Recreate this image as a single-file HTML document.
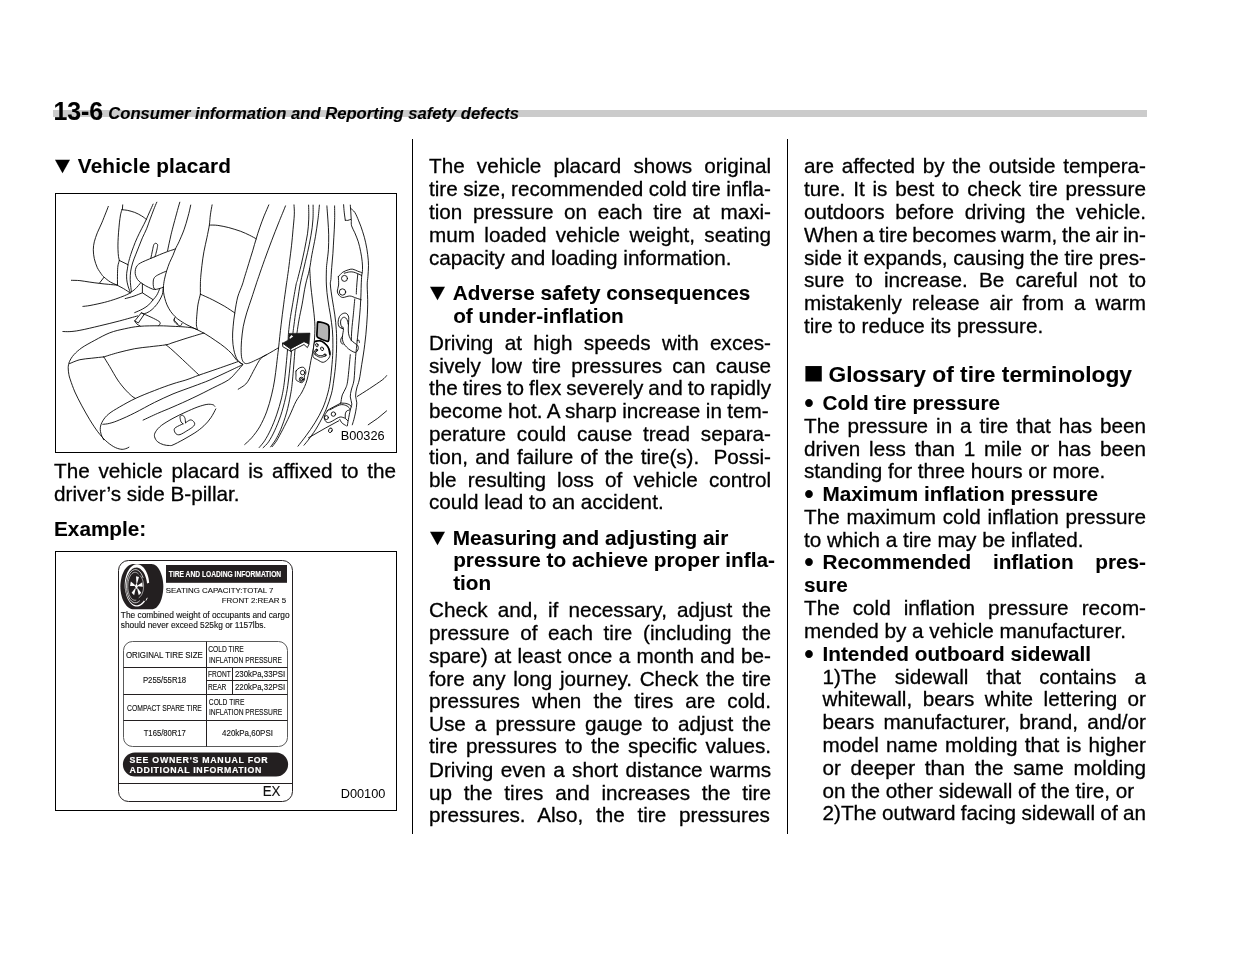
<!DOCTYPE html>
<html lang="en"><head><meta charset="utf-8"><title>13-6 Consumer information and Reporting safety defects</title>
<style>
html,body{margin:0;padding:0;background:#fff;}
body{width:1235px;height:954px;position:relative;overflow:hidden;font-family:"Liberation Sans",sans-serif;color:#000;}
#pg{position:absolute;left:0;top:0;width:1235px;height:954px;will-change:transform;}
.l{position:absolute;white-space:nowrap;font-size:20.7px;line-height:24px;height:24px;-webkit-text-stroke:0.3px #000;}
.j{text-align:justify;text-align-last:justify;white-space:normal;}
.b{font-weight:700;-webkit-text-stroke:0.1px #000;}
.bi{font-weight:700;font-style:italic;-webkit-text-stroke:0.1px #000;}
.bar{position:absolute;left:53px;top:110px;width:1094px;height:7px;background:#cbcbcb;}
.sep{position:absolute;top:139px;width:1px;height:695px;background:#000;}
.tri{position:absolute;left:0.9px;top:0;font-family:"DejaVu Sans",sans-serif;font-size:19.5px;font-weight:400;line-height:24px;transform:translateY(-0.2px) scaleY(0.9);}
.ht{display:inline-block;margin-left:23.8px;}.hi{display:inline-block;margin-left:24.2px;}
.sq{position:absolute;left:0;top:0;font-family:"DejaVu Sans",sans-serif;font-size:20.2px;font-weight:400;line-height:24px;transform:translate(-0.4px,-2.5px) scaleX(1.06);transform-origin:0 50%;}
.gt{display:inline-block;margin-left:24.6px;}
.bul{position:absolute;left:0.3px;top:0px;font-size:27px;line-height:24px;}
.bt{display:inline-block;margin-left:18.5px;}
.box{position:absolute;left:55px;width:340px;height:258px;border:1px solid #000;}
.cap{position:absolute;font-size:12.75px;line-height:14px;white-space:nowrap;}
</style></head>
<body><div id="pg">
<div class="bar"></div>
<div class="l b" style="left:53.4px;top:98.67px;font-size:24.9px;">13-6</div>
<div class="l bi" style="left:108.3px;top:102.14px;font-size:16.62px;">Consumer information and Reporting safety defects</div>
<div class="sep" style="left:412px"></div><div class="sep" style="left:787px"></div>
<div class="l b" style="left:54px;top:154.05px;font-size:20.75px;letter-spacing:0.15px;"><span class="tri">&#9660;</span><span class="ht">Vehicle placard</span></div>
<div class="l" style="left:54px;top:458.97px;width:342px;word-spacing:3.015px;">The vehicle placard is affixed to the</div>
<div class="l" style="left:54px;top:481.57px;">driver&rsquo;s side B-pillar.</div>
<div class="l b" style="left:54px;top:517.05px;font-size:20.75px;">Example:</div>
<div class="l" style="left:429px;top:154.07px;width:342px;word-spacing:6.445px;">The vehicle placard shows original</div>
<div class="l" style="left:429px;top:176.97px;width:342px;word-spacing:-0.356px;">tire size, recommended cold tire infla-</div>
<div class="l" style="left:429px;top:199.97px;width:342px;word-spacing:4.874px;">tion pressure on each tire at maxi-</div>
<div class="l" style="left:429px;top:222.97px;width:342px;word-spacing:3.566px;">mum loaded vehicle weight, seating</div>
<div class="l" style="left:429px;top:245.97px;width:342px;">capacity and loading information.</div>
<div class="l b" style="left:429px;top:281.05px;width:342px;font-size:20.75px;"><span class="tri">&#9660;</span><span class="ht">Adverse safety consequences</span></div>
<div class="l b" style="left:429px;top:303.65px;width:342px;font-size:20.75px;"><span class="hi">of under-inflation</span></div>
<div class="l" style="left:429px;top:330.67px;width:342px;word-spacing:5.618px;">Driving at high speeds with exces-</div>
<div class="l" style="left:429px;top:353.67px;width:342px;word-spacing:4.473px;">sively low tire pressures can cause</div>
<div class="l" style="left:429px;top:376.07px;width:342px;word-spacing:-0.752px;">the tires to flex severely and to rapidly</div>
<div class="l" style="left:429px;top:398.97px;width:342px;word-spacing:-0.301px;">become hot. A sharp increase in tem-</div>
<div class="l" style="left:429px;top:421.77px;width:342px;word-spacing:5.000px;">perature could cause tread separa-</div>
<div class="l" style="left:429px;top:444.67px;width:342px;word-spacing:1.387px;">tion, and failure of the tire(s).&nbsp; Possi-</div>
<div class="l" style="left:429px;top:467.67px;width:342px;word-spacing:5.386px;">ble resulting loss of vehicle control</div>
<div class="l" style="left:429px;top:490.27px;width:342px;">could lead to an accident.</div>
<div class="l b" style="left:429px;top:525.65px;width:342px;font-size:20.75px;"><span class="tri">&#9660;</span><span class="ht">Measuring and adjusting air</span></div>
<div class="l b" style="left:429px;top:548.15px;width:342px;font-size:20.75px;"><span class="hi">pressure to achieve proper infla-</span></div>
<div class="l b" style="left:429px;top:570.95px;width:342px;font-size:20.75px;"><span class="hi">tion</span></div>
<div class="l" style="left:429px;top:597.77px;width:342px;word-spacing:4.311px;">Check and, if necessary, adjust the</div>
<div class="l" style="left:429px;top:620.67px;width:342px;word-spacing:4.923px;">pressure of each tire (including the</div>
<div class="l" style="left:429px;top:643.57px;width:342px;word-spacing:0.557px;">spare) at least once a month and be-</div>
<div class="l" style="left:429px;top:666.57px;width:342px;word-spacing:1.867px;">fore any long journey. Check the tire</div>
<div class="l" style="left:429px;top:688.97px;width:342px;word-spacing:6.307px;">pressures when the tires are cold.</div>
<div class="l" style="left:429px;top:711.77px;width:342px;word-spacing:3.332px;">Use a pressure gauge to adjust the</div>
<div class="l" style="left:429px;top:734.37px;width:342px;word-spacing:2.630px;">tire pressures to the specific values.</div>
<div class="l" style="left:429px;top:757.67px;width:342px;word-spacing:1.713px;">Driving even a short distance warms</div>
<div class="l" style="left:429px;top:780.57px;width:342px;word-spacing:6.019px;">up the tires and increases the tire</div>
<div class="l" style="left:429px;top:803.37px;width:342px;word-spacing:7.028px;">pressures. Also, the tire pressures</div>
<div class="l" style="left:804px;top:154.07px;width:342px;word-spacing:2.006px;">are affected by the outside tempera-</div>
<div class="l" style="left:804px;top:176.97px;width:342px;word-spacing:2.045px;">ture. It is best to check tire pressure</div>
<div class="l" style="left:804px;top:199.67px;width:342px;word-spacing:5.000px;">outdoors before driving the vehicle.</div>
<div class="l" style="left:804px;top:222.67px;width:342px;word-spacing:-1.074px;">When a tire becomes warm, the air in-</div>
<div class="l" style="left:804px;top:245.57px;width:342px;word-spacing:-0.113px;">side it expands, causing the tire pres-</div>
<div class="l" style="left:804px;top:268.37px;width:342px;word-spacing:5.445px;">sure to increase. Be careful not to</div>
<div class="l" style="left:804px;top:291.27px;width:342px;word-spacing:4.251px;">mistakenly release air from a warm</div>
<div class="l" style="left:804px;top:314.07px;width:342px;">tire to reduce its pressure.</div>
<div class="l b" style="left:804px;top:361.72px;font-size:22.75px;"><span class="sq">&#9632;</span><span class="gt">Glossary of tire terminology</span></div>
<div class="l b" style="left:804px;top:390.85px;width:342px;font-size:20.75px;"><span class="bul">&bull;</span><span class="bt">Cold tire pressure</span></div>
<div class="l" style="left:804px;top:413.77px;width:342px;word-spacing:2.201px;">The pressure in a tire that has been</div>
<div class="l" style="left:804px;top:436.57px;width:342px;word-spacing:3.023px;">driven less than 1 mile or has been</div>
<div class="l" style="left:804px;top:459.17px;width:342px;">standing for three hours or more.</div>
<div class="l b" style="left:804px;top:481.75px;width:342px;font-size:20.75px;"><span class="bul">&bull;</span><span class="bt">Maximum inflation pressure</span></div>
<div class="l" style="left:804px;top:504.77px;width:342px;word-spacing:0.992px;">The maximum cold inflation pressure</div>
<div class="l" style="left:804px;top:527.67px;width:342px;">to which a tire may be inflated.</div>
<div class="l b" style="left:804px;top:550.05px;width:342px;font-size:20.75px;word-spacing:15.902px;"><span class="bul">&bull;</span><span class="bt">Recommended inflation pres-</span></div>
<div class="l b" style="left:804px;top:572.75px;width:342px;font-size:20.75px;">sure</div>
<div class="l" style="left:804px;top:595.77px;width:342px;word-spacing:7.313px;">The cold inflation pressure recom-</div>
<div class="l" style="left:804px;top:618.67px;width:342px;">mended by a vehicle manufacturer.</div>
<div class="l b" style="left:804px;top:641.65px;width:342px;font-size:20.75px;"><span class="bul">&bull;</span><span class="bt">Intended outboard sidewall</span></div>
<div class="l" style="left:822.5px;top:664.77px;width:323.5px;word-spacing:12.454px;">1)The sidewall that contains a</div>
<div class="l" style="left:822.5px;top:687.17px;width:323.5px;word-spacing:4.698px;">whitewall, bears white lettering or</div>
<div class="l" style="left:822.5px;top:709.97px;width:323.5px;word-spacing:3.568px;">bears manufacturer, brand, and/or</div>
<div class="l" style="left:822.5px;top:732.77px;width:323.5px;word-spacing:1.454px;">model name molding that is higher</div>
<div class="l" style="left:822.5px;top:755.57px;width:323.5px;word-spacing:3.979px;">or deeper than the same molding</div>
<div class="l" style="left:822.5px;top:778.57px;width:323.5px;">on the other sidewall of the tire, or</div>
<div class="l" style="left:822.5px;top:800.77px;width:323.5px;word-spacing:-0.387px;">2)The outward facing sidewall of an</div>
<div class="box" style="top:193px"><svg class="fig" viewBox="56 194 340 258" width="340" height="258" style="position:absolute;left:0;top:0">
<g fill="none" stroke="#000" stroke-width="0.88" stroke-linecap="round" stroke-linejoin="round">
<path d="M108.3 206.4C107.9 207.5 106.9 210.2 105.8 212.9C104.7 215.6 103.2 219.5 101.8 222.9C100.4 226.2 98.6 229.7 97.3 232.8C96.1 236.0 95.0 239.0 94.3 241.8C93.7 244.6 93.3 246.9 93.3 249.8C93.3 252.6 93.7 255.7 94.3 258.7C95.0 261.7 96.1 265.0 97.3 267.7C98.6 270.3 100.7 273.1 101.8 274.7C102.9 276.2 102.5 275.8 103.9 277.0C105.4 278.3 108.3 280.8 110.5 282.1C112.7 283.5 114.9 284.0 117.1 285.1C119.3 286.2 121.6 287.5 123.7 288.7C125.9 290.0 128.9 292.1 130.0 292.8"/>
<path d="M122.7 204.9 L122.4 209.4"/>
<path d="M121.9 209.7C122.9 209.8 125.6 210.0 127.7 210.4C129.8 210.9 132.3 211.5 134.7 212.4C137.0 213.3 139.7 214.7 141.6 215.9C143.6 217.1 145.6 218.8 146.4 219.4"/>
<path d="M121.9 209.7C121.7 210.6 120.9 212.7 120.5 214.9C120.1 217.1 119.8 219.9 119.4 222.9C119.1 225.9 118.8 229.7 118.5 232.8C118.3 236.0 118.1 239.0 118.0 241.8C117.9 244.6 117.9 247.3 118.0 249.8C118.1 252.3 118.3 254.9 118.5 256.7C118.8 258.5 119.3 259.9 119.4 260.5"/>
<path d="M119.3 260.5C119.1 261.4 118.2 263.9 117.9 266.0C117.6 268.1 117.6 270.2 117.5 273.3C117.4 276.5 117.5 283.1 117.5 285.1"/>
<path d="M119.4 260.5 L128.0 264.7"/>
<path d="M153.1 204.1C152.5 205.4 150.8 209.3 149.6 211.9C148.4 214.5 147.4 217.1 146.1 219.9C144.8 222.7 143.1 225.9 141.6 228.8C140.1 231.8 138.5 234.8 137.2 237.8C135.8 240.8 134.5 244.0 133.5 246.8C132.4 249.6 131.5 252.3 130.7 254.7C129.9 257.2 129.1 260.1 128.7 261.7C128.2 263.4 128.2 263.5 128.0 264.7C127.8 265.9 127.6 267.5 127.4 268.9C127.2 270.4 126.8 271.6 126.7 273.3C126.6 275.0 126.5 277.2 126.7 279.2C126.9 281.2 127.2 283.0 127.8 285.1C128.3 287.2 129.6 290.6 130.0 291.7"/>
<path d="M156.8 202.2C156.2 203.4 154.7 207.1 153.6 209.9C152.5 212.7 151.4 215.7 150.2 218.9C149.0 222.0 147.9 225.7 146.6 228.8C145.3 232.0 143.7 234.8 142.4 237.8C141.1 240.8 140.0 243.9 138.8 246.8C137.7 249.6 136.6 252.2 135.6 254.9C134.5 257.6 133.4 260.3 132.6 263.0C131.8 265.7 131.1 268.4 130.7 271.1C130.3 273.8 130.2 276.8 130.2 279.2C130.2 281.7 130.5 283.7 130.7 285.8C130.9 287.9 131.3 290.7 131.4 291.7"/>
<path d="M71.4 280.3C72.8 280.4 76.8 280.3 79.9 280.6C83.0 280.9 86.5 281.7 89.8 282.1C93.2 282.6 96.7 283.1 99.8 283.4C102.9 283.8 105.4 284.1 108.3 284.3C111.2 284.6 115.7 285.0 117.1 285.1"/>
<path d="M103.9 277.4 L99.5 283.1"/>
<path d="M130.3 292.8C131.2 292.1 133.8 290.4 135.5 288.7C137.2 287.1 139.8 283.9 140.6 282.9"/>
<path d="M130.3 293.0C129.4 293.4 126.9 294.7 124.5 295.7C122.0 296.7 119.0 297.9 115.7 299.0C112.4 300.1 108.9 301.2 104.7 302.3C100.4 303.4 93.6 304.8 90.0 305.5C86.4 306.1 84.1 306.3 82.9 306.4"/>
<path d="M175.5 248.8C175.1 248.9 174.3 249.3 173.0 249.8C171.7 250.2 169.8 250.7 167.5 251.6C165.3 252.4 162.5 253.5 159.6 254.7C156.6 256.0 152.4 257.7 149.6 258.9C146.8 260.1 144.5 261.0 142.6 261.9C140.8 262.8 139.7 263.3 138.6 264.2C137.6 265.1 136.7 265.9 136.2 267.2C135.6 268.4 135.2 270.3 135.2 271.7C135.1 273.1 135.2 274.3 135.7 275.7C136.1 277.0 136.8 278.5 137.6 279.6C138.5 280.8 139.3 281.5 140.6 282.5C142.0 283.5 144.0 284.8 145.7 285.8C147.5 286.8 149.4 287.8 150.9 288.4C152.3 289.0 153.2 289.4 154.5 289.5C155.9 289.5 157.5 289.1 159.0 288.7C160.4 288.4 162.6 287.4 163.4 287.1"/>
<path d="M166.3 271.1C165.3 271.6 162.3 272.8 160.4 273.7C158.6 274.6 156.4 275.6 155.3 276.6C154.1 277.7 153.8 278.7 153.4 279.9C153.1 281.2 153.2 283.0 153.2 284.3C153.3 285.7 153.5 287.2 153.8 288.0C154.2 288.8 155.0 289.1 155.3 289.3"/>
<path d="M150.8 258.5C151.1 257.1 152.1 252.1 152.6 249.8C153.1 247.5 153.3 245.9 153.8 244.8C154.3 243.7 154.9 243.3 155.6 243.3C156.2 243.3 157.3 243.7 157.6 244.6C157.8 245.5 157.4 247.1 157.1 248.8C156.7 250.5 156.0 253.4 155.6 254.7C155.2 256.1 154.7 256.6 154.6 256.9"/>
<path d="M179.8 202.2C179.2 204.1 177.6 209.8 176.5 213.9C175.4 218.0 173.9 223.4 173.0 226.9C172.1 230.3 171.7 232.0 171.0 234.8C170.4 237.6 169.6 241.1 169.0 243.8C168.4 246.5 167.8 249.8 167.5 251.0"/>
<path d="M190.7 205.1C190.3 207.1 189.1 212.8 187.9 216.9C186.8 221.0 185.5 225.7 184.0 229.8C182.5 234.0 180.4 238.6 179.0 241.8C177.6 244.9 176.5 246.5 175.5 248.8C174.5 251.0 174.0 252.9 173.0 255.2C172.0 257.6 170.6 260.1 169.5 262.7C168.5 265.3 167.6 267.9 166.7 270.7C165.9 273.4 165.0 276.4 164.5 279.2C163.9 282.0 163.5 285.1 163.4 287.3C163.2 289.5 163.3 290.6 163.6 292.4C163.8 294.2 164.2 296.2 164.8 298.3C165.4 300.4 166.0 302.7 167.0 304.9C168.0 307.1 169.3 309.5 170.7 311.5C172.0 313.4 173.7 315.2 175.1 316.6C176.5 318.0 177.0 318.5 179.0 319.9C181.0 321.2 183.9 323.2 186.9 324.8C190.0 326.5 194.2 328.2 197.4 329.8C200.6 331.4 202.8 332.5 205.9 334.3C208.9 336.1 212.7 338.6 215.8 340.8C219.0 342.9 222.1 345.1 224.8 347.3C227.4 349.4 229.8 351.6 231.8 353.7C233.8 355.9 234.9 358.5 236.7 360.2C238.6 361.9 241.7 363.5 242.7 364.2"/>
<path d="M142.4 284.0 L142.4 292.8 L153.1 299.7"/>
<path d="M142.4 292.8C141.0 293.3 136.9 295.1 134.0 296.1C131.1 297.1 126.7 298.2 125.2 298.6"/>
<path d="M159.7 288.7C159.2 289.8 157.9 293.5 156.7 295.3C155.6 297.2 154.4 298.2 153.1 299.7C151.7 301.3 150.4 303.4 148.7 304.9C147.0 306.4 145.1 307.6 142.8 308.9C140.5 310.2 136.1 312.0 134.7 312.6"/>
<path d="M163.4 287.6C163.2 288.8 163.0 292.3 162.3 294.6C161.5 296.9 160.2 299.1 159.0 301.2C157.7 303.3 156.1 305.4 154.5 307.1C153.0 308.8 151.1 310.4 149.4 311.5C147.7 312.6 145.6 313.4 144.3 313.7C142.9 313.9 141.8 313.1 141.3 312.9"/>
<path d="M141.3 312.9 L134.7 321.0 L138.4 322.9 L143.9 314.8Z"/>
<path d="M134.7 320.9C135.0 321.4 135.7 323.0 136.7 323.8C137.6 324.7 139.6 325.7 140.1 326.0"/>
<path d="M143.6 313.9C145.3 314.6 150.8 317.0 153.6 318.4C156.3 319.8 159.2 321.1 160.1 322.4C160.9 323.6 158.8 325.3 158.6 325.8"/>
<path d="M137.6 315.9C134.7 316.7 126.0 319.2 119.7 320.9C113.4 322.5 106.4 324.3 99.8 325.8C93.2 327.4 84.9 329.4 79.9 330.3C74.9 331.3 72.7 331.4 69.9 331.6C67.1 331.8 64.1 331.5 62.9 331.5"/>
<path d="M197.4 329.6C196.5 329.3 194.3 328.3 191.9 327.8C189.5 327.4 186.1 327.1 183.0 326.8C179.8 326.6 176.9 326.5 173.0 326.3C169.1 326.2 165.1 325.8 159.6 325.8C154.0 325.8 145.5 325.8 139.6 326.3C133.8 326.8 129.7 327.7 124.7 328.8C119.7 329.9 114.7 330.9 109.8 332.8C104.8 334.7 99.5 337.8 94.8 340.3C90.2 342.8 85.4 345.3 81.9 347.7C78.4 350.2 76.0 352.4 73.9 354.7C71.8 357.0 70.4 359.5 69.4 361.7C68.5 363.9 68.3 365.5 68.2 367.7C68.1 369.8 68.6 372.6 68.9 374.6C69.3 376.7 69.4 377.1 70.4 380.0C71.4 382.9 73.0 387.6 74.9 392.0C76.8 396.3 79.4 401.2 81.9 405.9C84.4 410.5 87.2 415.5 89.8 419.8C92.5 424.2 95.2 428.3 97.8 431.8C100.5 435.3 103.1 438.3 105.8 440.8C108.4 443.2 111.3 445.3 113.7 446.7C116.2 448.1 118.7 448.9 120.7 449.2C122.7 449.6 124.3 449.1 125.7 448.7C127.1 448.4 128.4 447.5 128.9 447.2"/>
<path d="M69.4 363.7C71.2 363.0 76.1 360.6 79.9 359.7C83.6 358.8 87.8 358.7 91.8 358.2C95.8 357.7 101.8 357.1 103.8 356.9"/>
<path d="M103.8 356.9C106.1 356.2 112.6 354.1 117.7 352.7C122.9 351.4 129.3 349.7 134.7 348.7C140.0 347.7 144.4 347.4 149.6 346.8C154.8 346.1 162.1 345.5 166.0 344.8C169.9 344.1 169.4 343.7 173.0 342.6C176.7 341.4 182.8 339.4 187.9 337.8C193.1 336.2 201.2 333.8 203.9 333.0"/>
<path d="M103.8 356.9C104.8 358.5 107.4 362.8 109.8 366.7C112.1 370.5 115.2 376.3 117.7 380.0C120.2 383.7 122.4 386.3 124.7 389.0C127.0 391.6 129.9 394.4 131.7 395.9C133.5 397.5 134.8 398.0 135.5 398.4"/>
<path d="M166.0 344.8C167.2 345.8 169.7 347.7 173.0 350.7C176.3 353.7 181.6 358.6 185.9 362.7C190.3 366.8 196.9 373.1 199.1 375.1"/>
<path d="M103.8 439.8C103.4 438.9 101.9 436.8 101.3 434.8C100.7 432.8 100.0 430.1 100.3 427.8C100.5 425.5 101.4 423.2 102.8 420.8C104.2 418.5 105.9 416.2 108.8 413.9C111.6 411.5 115.3 409.5 119.7 406.9C124.2 404.3 129.6 401.2 135.5 398.4C141.3 395.7 148.3 392.9 154.6 390.5C160.8 388.0 167.8 385.5 173.0 383.8C178.2 382.0 181.6 381.4 185.9 380.0C190.3 378.6 193.8 377.0 199.1 375.1C204.4 373.3 211.4 370.9 217.8 368.7C224.3 366.4 234.4 362.9 237.7 361.7"/>
<path d="M102.8 424.3C104.0 424.2 106.9 424.1 109.8 423.3C112.6 422.6 115.6 421.6 119.7 419.8C123.9 418.1 128.9 415.8 134.7 412.9C140.5 410.0 148.2 405.6 154.6 402.4C161.0 399.3 166.6 396.6 173.0 393.9C179.4 391.3 186.8 388.8 192.9 386.5C199.1 384.2 204.0 382.5 209.9 380.0C215.7 377.5 222.3 374.2 227.8 371.7C233.3 369.1 240.2 365.8 242.7 364.7"/>
<path d="M143.1 420.1C145.5 419.0 152.6 415.6 157.6 413.4C162.5 411.2 167.1 409.5 173.0 406.9C178.9 404.3 186.3 401.1 192.9 397.9C199.6 394.8 206.9 391.0 212.8 388.0C218.7 385.0 224.3 382.7 228.3 380.0C232.3 377.3 234.3 374.2 236.7 371.7C239.2 369.1 241.7 365.8 242.7 364.7"/>
<path d="M238.2 389.2C239.3 388.5 243.0 386.5 244.7 385.0C246.5 383.5 247.0 382.7 248.7 380.0C250.4 377.3 252.7 372.2 254.7 368.7C256.7 365.1 258.7 361.0 260.6 358.7C262.6 356.4 265.6 355.4 266.6 354.7"/>
<path d="M214.8 406.4C214.5 406.1 214.2 405.0 212.8 404.7C211.5 404.4 209.4 404.0 206.9 404.4C204.4 404.8 201.6 405.6 197.9 406.9C194.2 408.2 189.1 410.5 185.0 412.4C180.8 414.3 176.9 416.2 173.0 418.3C169.1 420.5 164.5 423.1 161.6 425.3C158.6 427.6 156.7 429.9 155.6 431.8C154.4 433.7 154.2 435.1 154.6 436.8C154.9 438.4 156.1 440.4 157.6 441.8C159.1 443.1 161.6 444.1 163.5 444.7C165.5 445.4 167.9 445.5 169.5 445.5C171.1 445.6 170.8 445.9 173.0 444.9C175.2 444.0 179.3 441.8 183.0 439.8C186.6 437.7 191.4 435.1 194.9 432.8C198.4 430.5 201.2 428.3 203.9 425.8C206.5 423.3 208.9 420.7 210.8 417.8C212.8 415.0 215.0 410.4 215.8 408.9"/>
<path d="M183.0 423.8C182.6 423.5 181.5 422.9 181.0 421.8C180.5 420.8 180.1 418.3 180.0 417.4C179.9 416.4 180.0 416.2 180.5 415.9C181.0 415.5 182.2 414.9 183.0 415.4C183.7 415.8 184.5 417.1 185.0 418.3C185.4 419.6 185.4 422.1 185.5 422.8"/>
<path d="M183.0 423.8C181.8 424.4 177.4 426.3 176.0 427.3C174.5 428.3 174.2 428.7 174.2 429.8C174.2 430.9 175.0 433.0 176.0 433.8C177.0 434.6 178.1 435.1 180.0 434.6C181.8 434.1 184.8 432.1 186.9 430.8C189.1 429.5 191.6 428.0 192.9 426.8C194.2 425.7 194.7 424.8 194.7 423.8C194.7 422.8 193.7 421.5 192.9 420.8C192.1 420.2 191.2 419.7 189.9 420.0C188.7 420.4 186.2 422.4 185.5 422.8"/>
<path d="M212.1 204.9C211.8 206.6 210.8 211.6 210.4 214.9C209.9 218.2 209.9 221.0 209.4 224.9C208.8 228.7 207.8 233.3 206.9 237.8C206.0 242.3 204.7 247.1 203.9 251.8C203.0 256.4 202.4 261.4 201.9 265.7C201.4 270.0 200.9 274.4 200.7 277.6C200.4 280.9 200.4 282.3 200.4 285.0C200.3 287.7 200.4 292.5 200.4 294.0"/>
<path d="M200.4 294.2C200.0 296.0 198.5 301.1 197.9 304.9C197.3 308.7 197.0 313.6 196.7 316.9C196.5 320.2 196.3 322.8 196.4 324.8C196.5 326.9 197.2 328.6 197.4 329.3"/>
<path d="M209.4 225.1C210.8 225.1 214.6 224.9 217.8 225.4C221.1 225.8 225.0 226.7 228.8 227.6C232.6 228.6 237.2 230.1 240.7 231.3C244.2 232.6 247.1 234.1 249.7 235.3C252.3 236.6 255.1 238.2 256.2 238.8"/>
<path d="M268.8 204.9C268.0 206.8 265.7 212.1 264.1 215.9C262.6 219.7 261.0 224.0 259.7 227.8C258.3 231.7 257.3 235.0 256.2 238.8C255.0 242.6 253.9 246.6 252.7 250.8C251.4 254.9 250.0 259.4 248.7 263.7C247.4 268.0 245.8 273.1 244.7 276.7C243.6 280.2 243.4 281.6 242.2 285.0C241.1 288.4 239.0 292.3 237.7 297.0C236.5 301.6 235.5 307.9 234.8 312.9C234.0 317.9 233.4 322.5 233.1 326.8C232.7 331.1 232.4 335.0 232.6 338.8C232.7 342.6 233.1 346.4 233.8 349.7C234.5 353.1 235.6 356.5 236.7 358.7C237.9 360.9 239.7 362.3 240.7 363.2C241.7 364.1 242.4 364.0 242.7 364.2"/>
<path d="M200.4 294.2C202.5 295.1 208.8 297.9 212.8 299.9C216.9 302.0 221.1 304.3 224.8 306.4C228.4 308.6 233.1 311.8 234.8 312.9"/>
<path d="M285.5 205.9C284.4 208.8 280.9 217.1 278.6 222.9C276.3 228.7 273.9 234.7 271.6 240.8C269.3 246.9 266.8 253.7 264.6 259.7C262.5 265.7 260.1 272.4 258.7 276.7C257.2 280.9 257.0 281.5 255.9 285.0C254.7 288.6 253.2 293.3 251.7 297.9C250.2 302.6 248.1 308.1 246.7 312.9C245.3 317.7 244.1 322.2 243.2 326.8C242.4 331.5 241.9 336.5 241.5 340.8C241.2 345.1 241.1 349.6 241.2 352.7C241.3 355.9 241.6 358.0 242.2 359.7C242.8 361.4 243.6 362.6 244.7 363.2C245.8 363.8 246.9 363.7 248.7 363.2C250.5 362.7 252.7 361.6 255.7 360.2C258.7 358.8 262.8 356.8 266.6 354.7C270.4 352.6 276.6 348.9 278.6 347.7"/>
<path d="M294.0 204.9C294.1 206.6 294.5 210.8 294.3 214.9C294.1 219.1 293.5 224.7 293.0 229.8C292.6 235.0 292.1 240.5 291.5 245.8C290.9 251.1 290.2 256.6 289.5 261.7C288.9 266.9 288.1 272.8 287.5 276.7C287.0 280.5 287.0 280.3 286.3 285.0C285.7 289.7 284.4 298.3 283.6 304.9C282.7 311.6 281.9 317.7 281.1 324.8C280.2 332.0 279.3 341.1 278.6 347.7C277.8 354.4 277.2 359.3 276.6 364.7C275.9 370.1 275.4 375.0 274.6 380.0C273.8 385.1 272.9 389.6 271.6 394.9C270.3 400.2 268.6 406.6 266.6 411.9C264.6 417.2 262.1 422.5 259.7 426.8C257.2 431.1 254.2 434.8 251.7 437.8C249.2 440.7 245.9 443.4 244.7 444.5"/>
<path d="M308.6 205.1C308.7 207.6 308.9 215.1 308.7 219.9C308.5 224.7 308.2 228.8 307.5 233.8C306.7 238.8 305.5 244.4 304.5 249.8C303.4 255.1 302.1 260.7 301.0 265.7C299.8 270.7 298.3 276.4 297.5 279.6C296.7 282.9 296.8 280.8 296.0 285.0C295.2 289.2 293.5 299.1 292.5 304.9C291.5 310.7 290.7 315.2 290.0 319.9C289.4 324.5 289.0 327.8 288.5 332.8C288.1 337.8 288.2 341.9 287.5 349.7C286.9 357.6 285.5 372.0 284.6 380.0C283.6 388.1 282.9 392.1 281.6 397.9C280.2 403.7 278.4 409.5 276.6 414.9C274.8 420.2 272.6 425.5 270.6 429.8C268.6 434.1 266.5 437.8 264.6 440.8C262.7 443.7 260.1 446.4 259.2 447.5"/>
<path d="M313.1 205.1C313.1 207.6 313.3 214.8 312.9 219.9C312.6 225.0 311.9 230.3 310.9 235.8C310.0 241.3 308.7 247.1 307.5 252.7C306.2 258.4 304.7 264.3 303.5 269.7C302.2 275.1 300.9 280.3 300.0 285.0C299.1 289.7 298.7 293.8 298.0 297.9C297.3 302.1 296.7 305.4 296.0 309.9C295.3 314.4 294.5 321.0 294.0 324.8C293.5 328.7 293.4 328.5 293.0 332.8C292.6 337.1 292.3 342.9 291.5 350.7C290.8 358.6 289.5 372.2 288.5 380.0C287.5 387.9 286.9 392.0 285.5 397.9C284.2 403.9 282.4 410.4 280.6 415.9C278.7 421.3 276.6 426.5 274.6 430.8C272.6 435.1 270.5 438.9 268.6 441.8C266.7 444.6 264.1 446.7 263.1 447.7"/>
<path d="M319.4 205.1C319.2 207.6 318.6 214.6 317.9 219.9C317.2 225.2 316.4 231.0 315.4 236.8C314.4 242.6 312.9 249.3 311.9 254.7C310.9 260.2 310.5 264.6 309.4 269.7C308.4 274.7 306.7 279.1 305.5 285.0C304.2 290.9 303.1 299.1 302.0 304.9C300.9 310.7 299.8 315.2 299.0 319.9C298.2 324.5 297.7 327.8 297.0 332.8C296.3 337.8 295.8 341.9 295.0 349.7C294.3 357.6 293.3 372.5 292.5 380.0C291.8 387.6 291.5 389.5 290.5 394.9C289.5 400.4 288.2 407.1 286.5 412.9C284.9 418.7 282.4 425.3 280.6 429.8C278.7 434.3 277.2 436.9 275.6 439.8C273.9 442.6 271.4 445.7 270.6 446.9"/>
<path d="M309.7 268.7C309.9 271.4 310.3 279.8 310.7 285.0C311.2 290.2 311.8 294.5 312.4 299.9C313.0 305.4 314.0 312.9 314.4 317.9C314.8 322.8 315.0 325.3 314.9 329.8C314.8 334.3 314.6 339.6 313.9 344.8C313.3 349.9 312.1 354.8 310.9 360.7C309.8 366.6 308.5 374.8 307.0 380.0C305.5 385.2 303.8 388.4 302.0 392.0C300.2 395.5 298.1 397.4 296.0 401.4C293.9 405.4 291.8 411.1 289.5 415.9C287.3 420.6 284.7 425.7 282.6 429.8C280.4 434.0 278.3 437.9 276.6 440.8C274.8 443.6 272.9 445.7 272.1 446.7"/>
<path d="M326.9 205.9C327.0 208.3 327.6 215.1 327.9 219.9C328.2 224.7 328.6 229.8 328.7 234.8C328.8 239.8 328.6 245.3 328.4 249.8C328.1 254.2 327.4 258.4 327.1 261.7C326.7 265.0 326.5 265.8 326.4 269.7C326.3 273.6 326.1 280.0 326.4 285.0C326.6 290.1 327.2 295.0 327.9 299.9C328.5 304.9 329.6 309.9 330.4 314.9C331.1 319.9 331.9 324.8 332.4 329.8C332.8 334.8 332.9 339.8 332.9 344.8C332.9 349.7 332.8 353.8 332.4 359.7C331.9 365.6 331.1 374.5 330.4 380.0C329.6 385.6 329.1 388.3 327.9 392.9C326.6 397.6 325.1 402.9 322.9 407.9C320.7 412.9 317.7 418.2 314.9 422.8C312.1 427.5 308.8 431.9 306.0 435.8C303.1 439.7 299.3 444.5 298.0 446.2"/>
<path d="M334.6 205.9C334.6 208.6 334.8 216.6 334.6 221.9C334.5 227.2 334.1 232.5 333.8 237.8C333.5 243.1 333.2 248.8 332.9 253.7C332.5 258.7 332.0 263.4 331.7 267.7C331.3 272.0 331.1 276.8 330.9 279.6C330.6 282.5 330.1 281.6 330.4 285.0C330.6 288.4 331.6 295.0 332.4 299.9C333.1 304.9 334.2 309.9 334.8 314.9C335.5 319.9 336.0 324.8 336.3 329.8C336.6 334.8 336.7 339.3 336.6 344.8C336.6 350.2 336.3 356.8 335.8 362.7C335.4 368.6 334.6 374.8 333.8 380.0C333.1 385.2 332.7 389.0 331.4 393.9C330.0 398.9 328.1 404.6 325.9 409.9C323.6 415.2 320.6 421.2 317.9 425.8C315.3 430.5 312.3 434.5 309.9 437.8C307.6 441.0 305.0 444.0 304.0 445.2"/>
<path d="M343.6 204.7C343.7 206.1 344.0 210.3 344.3 212.9C344.6 215.5 345.1 219.0 345.3 220.2"/>
<path d="M345.3 220.2C345.7 220.2 346.9 220.5 347.8 220.4C348.7 220.2 350.1 219.5 350.6 219.4"/>
<path d="M350.3 205.1C350.4 206.3 350.6 209.5 350.8 211.9C350.9 214.4 351.1 217.6 351.3 219.9C351.4 222.2 351.0 223.7 351.6 225.9C352.2 228.0 353.7 230.2 354.8 232.8C355.9 235.5 357.3 238.6 358.3 241.8C359.2 244.9 360.1 248.4 360.7 251.8C361.4 255.1 361.9 258.7 362.2 261.7C362.5 264.7 362.6 267.4 362.5 269.7C362.5 272.0 362.0 273.1 361.7 275.7C361.5 278.2 361.4 281.0 361.2 285.0C361.1 289.1 361.0 295.0 360.7 299.9C360.5 304.9 360.2 309.9 359.7 314.9C359.3 319.9 358.7 324.8 358.3 329.8C357.8 334.8 357.3 339.6 356.8 344.8C356.3 349.9 355.7 354.8 355.3 360.7C354.8 366.6 354.6 375.1 354.0 380.0C353.3 384.9 351.9 387.1 351.3 390.0C350.7 392.8 350.2 394.6 350.3 396.9C350.4 399.3 351.8 401.7 351.8 403.9C351.8 406.1 350.9 407.2 350.3 409.9C349.7 412.5 348.8 417.2 348.3 419.8C347.8 422.5 347.5 424.8 347.3 425.8"/>
<path d="M350.8 208.4C351.4 209.1 353.4 210.3 354.8 212.4C356.1 214.5 357.4 217.6 358.7 220.9C360.1 224.1 361.6 228.2 362.7 231.8C363.9 235.5 364.9 239.0 365.7 242.8C366.6 246.6 367.2 250.9 367.7 254.7C368.2 258.6 368.5 262.0 368.5 265.7C368.5 269.3 368.1 273.4 367.9 276.7C367.7 279.9 367.2 280.3 367.2 285.0C367.2 289.7 367.8 298.3 367.7 304.9C367.6 311.6 367.2 318.2 366.7 324.8C366.2 331.5 365.6 338.1 364.7 344.8C363.9 351.4 362.7 358.8 361.7 364.7C360.8 370.6 360.1 376.1 359.2 380.0C358.4 383.9 357.4 385.3 356.8 388.0C356.1 390.6 355.6 393.4 355.6 395.9C355.6 398.4 356.8 400.3 356.8 402.9C356.8 405.6 356.1 409.1 355.6 411.9C355.1 414.7 354.3 417.7 353.8 419.8C353.2 422.0 352.5 424.0 352.3 424.8"/>
<path d="M338.3 276.7C339.1 275.9 341.1 273.3 342.8 272.2C344.6 271.0 347.1 270.2 348.8 269.7C350.4 269.2 351.3 268.9 352.8 269.2C354.3 269.4 356.2 270.6 357.8 271.2C359.3 271.8 361.5 272.4 362.2 272.7"/>
<path d="M344.3 273.2C345.2 273.0 348.2 272.0 349.8 271.9C351.4 271.7 352.4 271.9 353.8 272.2C355.1 272.5 356.4 273.1 357.8 273.7C359.1 274.2 361.1 275.2 361.7 275.5"/>
<path d="M338.3 276.7C338.4 278.0 338.8 282.6 338.6 285.0C338.5 287.4 337.3 289.3 337.3 291.0C337.4 292.6 337.9 293.9 338.8 295.0C339.7 296.0 341.0 297.3 342.8 297.5C344.6 297.6 347.6 295.9 349.8 296.0C351.9 296.0 353.9 297.3 355.8 297.9C357.7 298.6 360.3 299.4 361.2 299.7"/>
<path d="M357.8 274.2C357.6 276.0 357.0 281.7 356.8 285.0C356.5 288.3 356.3 292.5 356.3 294.0"/>
<path d="M354.8 298.9C354.5 301.6 353.8 309.7 353.3 314.9C352.8 320.0 352.1 325.5 351.8 329.8C351.4 334.1 351.4 339.0 351.3 340.8"/>
<path d="M350.3 354.7C349.9 358.9 348.5 374.5 347.8 380.0C347.0 385.6 346.7 385.5 345.8 388.0C344.9 390.5 343.1 392.5 342.3 394.9C341.5 397.4 341.1 401.6 340.8 402.9"/>
<path d="M342.7 328.6C342.1 328.3 340.0 328.0 339.2 326.9C338.5 325.8 338.0 324.0 338.1 322.3C338.1 320.6 338.6 318.0 339.5 316.5C340.4 315.0 342.1 313.8 343.3 313.4C344.5 312.9 345.8 313.0 346.7 313.6C347.6 314.3 348.4 315.7 348.7 317.1C349.0 318.5 348.6 320.5 348.6 322.3C348.5 324.1 348.3 326.1 348.3 328.0C348.3 330.0 348.2 332.1 348.6 333.8C348.9 335.5 349.4 337.1 350.2 338.4C350.9 339.8 352.0 340.9 353.0 341.9C354.1 342.9 355.7 343.8 356.5 344.5C357.3 345.1 357.7 345.2 357.9 345.9C358.2 346.6 358.4 347.9 358.2 348.8C358.1 349.7 357.6 350.5 357.1 351.1C356.6 351.7 356.2 352.5 355.4 352.5C354.5 352.5 353.0 351.7 351.9 351.1C350.7 350.5 349.6 349.7 348.4 348.8C347.3 347.8 345.9 346.5 345.0 345.3C344.1 344.2 343.4 343.2 343.0 341.9C342.5 340.5 342.4 338.8 342.4 337.3C342.4 335.7 342.8 334.1 343.0 332.7C343.2 331.2 343.6 329.6 343.5 328.6C343.5 327.7 342.8 327.2 342.7 326.9"/>
<path d="M342.4 328.6C342.1 327.9 340.9 325.5 340.7 324.0C340.4 322.6 340.5 321.1 340.9 320.0C341.4 318.9 342.4 317.7 343.3 317.4C344.1 317.1 345.1 317.3 345.8 318.0C346.6 318.6 347.2 320.1 347.6 321.1C348.0 322.1 348.1 323.5 348.1 324.0"/>
<path d="M342.4 336.4C342.1 336.8 341.2 338.0 340.9 339.0C340.7 340.0 340.6 341.6 340.9 342.5C341.3 343.3 342.6 343.9 343.0 344.2"/>
<path d="M357.1 340.7C357.4 340.6 358.4 339.9 358.8 340.1C359.2 340.4 359.3 342.1 359.4 342.5"/>
<path d="M340.8 403.1 L329.9 408.9 L326.9 410.9"/>
<path d="M340.8 403.1C341.7 403.2 344.3 403.1 345.8 403.4C347.3 403.7 348.9 404.3 349.8 404.9C350.7 405.5 351.0 406.6 351.3 406.9"/>
<path d="M328.4 409.9C327.8 410.7 325.5 413.4 324.9 414.9C324.2 416.4 324.1 417.6 324.4 418.8C324.7 420.1 325.8 421.8 326.9 422.3C328.0 422.8 328.9 422.7 330.9 421.8C332.9 421.0 336.8 418.1 338.8 417.4C340.8 416.6 341.7 417.1 342.8 417.4C344.0 417.6 345.0 418.3 345.8 418.8C346.6 419.4 347.5 420.5 347.8 420.8"/>
<path d="M329.9 409.9C331.5 409.1 337.2 405.6 339.8 404.9C342.5 404.2 344.2 404.9 345.8 405.4C347.4 405.9 348.6 407.1 349.3 407.9C350.0 408.6 350.2 409.4 349.8 409.9C349.4 410.4 347.5 410.2 346.8 410.9C346.0 411.5 345.6 412.7 345.3 413.9C345.1 415.0 345.3 417.2 345.3 417.8"/>
<path d="M308.5 437.8 L325.9 427.8 L338.8 420.8"/>
<path d="M339.8 419.3C340.2 419.9 340.7 421.7 341.8 422.8C342.9 423.9 345.6 425.3 346.3 425.8"/>
<path d="M386.6 375.6C385.9 376.4 385.0 377.9 382.2 380.0C379.3 382.1 373.9 385.7 369.7 388.5C365.6 391.2 359.3 395.1 357.3 396.4"/>
<path d="M386.6 410.9 L377.7 418.3 L368.2 424.8"/>
<path d="M296.1 370.9C296.7 369.7 298.2 368.6 299.3 368.0C300.3 367.4 301.7 367.1 302.6 367.2C303.5 367.2 304.2 367.7 304.7 368.4C305.2 369.1 305.6 370.4 305.8 371.4C305.9 372.3 305.8 373.1 305.6 373.9C305.3 374.6 304.5 375.1 304.3 376.0C304.1 376.8 304.6 378.0 304.5 378.9C304.4 379.8 304.0 380.8 303.5 381.4C302.9 382.1 302.2 382.7 301.4 382.7C300.5 382.7 299.3 381.9 298.4 381.4C297.5 380.9 296.5 380.8 296.1 379.7C295.7 378.7 296.0 376.6 296.0 375.1C296.0 373.7 295.6 372.1 296.1 370.9Z"/>
<path d="M174.5 318.4C174.4 318.8 173.6 319.9 174.0 320.9C174.4 321.9 175.9 323.5 177.0 324.3C178.1 325.2 179.6 326.0 180.5 325.8C181.3 325.7 181.7 323.8 182.0 323.3"/>
<path d="M175.1 317.3C175.0 317.8 173.9 319.2 174.4 320.3C174.8 321.4 177.4 323.3 178.0 324.0"/>
<ellipse cx="302.6" cy="372.6" rx="2.18" ry="2.18"/>
<ellipse cx="301.4" cy="379.3" rx="2.10" ry="2.10"/>
<ellipse cx="301.4" cy="379.5" rx="1.05" ry="1.05"/>
<ellipse cx="344.5" cy="278.4" rx="2.99" ry="2.99"/>
<ellipse cx="342.5" cy="292.0" rx="3.19" ry="3.19"/>
<ellipse cx="326.4" cy="417.6" rx="1.99" ry="1.99"/>
<ellipse cx="333.4" cy="414.1" rx="2.19" ry="2.19"/>
<ellipse cx="330.4" cy="430.3" rx="1.69" ry="2.39" transform="rotate(25 330.4 430.3)"/>
<path d="M314.8 341.9C315.6 340.5 316.9 340.7 318.2 340.6C319.5 340.6 321.2 340.8 322.7 341.6C324.2 342.5 326.0 343.9 327.2 345.6C328.5 347.3 329.8 349.8 330.1 351.8C330.4 353.9 330.1 356.3 328.9 358.1C327.8 359.8 325.2 362.0 323.3 362.3C321.4 362.6 319.3 360.7 317.6 359.8C315.9 358.8 313.8 358.5 313.1 356.7C312.4 354.9 313.1 351.5 313.4 349.0C313.6 346.6 314.0 343.3 314.8 341.9Z" fill="#fff"/>
<path d="M315.3 341.4C316.1 341.3 318.4 340.5 319.9 340.8C321.4 341.1 323.0 341.9 324.4 343.1C325.8 344.2 327.5 346.0 328.4 347.9C329.3 349.7 329.6 353.1 329.8 354.1" stroke-width="1.6"/>
<ellipse cx="316.9" cy="345.1" rx="1.15" ry="1.78" transform="rotate(-15 316.9 345.1)"/>
<ellipse cx="322.1" cy="348.8" rx="1.36" ry="1.89" transform="rotate(-25 322.1 348.8)"/>
<ellipse cx="325.0" cy="355.1" rx="1.05" ry="1.26"/>
<ellipse cx="316.7" cy="350.1" rx="0.94" ry="1.05"/>
<path d="M316.4 350.3C316.1 350.7 314.6 351.5 314.6 352.2C314.5 352.9 315.1 353.8 315.9 354.5C316.7 355.2 318.1 356.1 319.3 356.4C320.5 356.6 322.0 356.3 322.9 356.1C323.9 355.9 324.5 355.2 324.8 355.1" stroke-width="2.3"/><path d="M316.4 350.3C316.1 350.7 314.6 351.5 314.6 352.2C314.5 352.9 315.1 353.8 315.9 354.5C316.7 355.2 318.1 356.1 319.3 356.4C320.5 356.6 322.0 356.3 322.9 356.1C323.9 355.9 324.5 355.2 324.8 355.1" stroke="#fff" stroke-width="0.8"/>
<path d="M282.5 343.3 L282.8 346.7 L290.7 351.3 L304.0 344.5 L307.4 347.6 L309.1 343.9 L304.0 341.5 L290.7 348.6Z" fill="#fff"/><path d="M290.7 348.6 L290.7 351.3"/>
</g>
<path d="M318.2 321.8C319.1 321.8 321.7 322.3 323.3 322.8C324.9 323.3 326.9 324.0 327.8 324.7C328.8 325.5 328.7 325.4 328.9 327.0C329.2 328.6 329.2 332.2 329.1 334.4C329.1 336.6 328.9 338.9 328.7 340.1C328.4 341.2 328.5 341.3 327.5 341.3C326.5 341.3 324.3 340.4 322.7 339.8C321.1 339.1 318.9 338.2 317.9 337.5C316.9 336.8 317.1 337.0 316.9 335.5C316.8 334.1 317.1 330.8 317.2 328.7C317.3 326.6 317.3 324.2 317.5 323.0C317.7 321.9 317.2 321.8 318.2 321.8Z" fill="#b4b4b4" stroke="#000" stroke-width="1.7" stroke-linejoin="round"/>
<path d="M289.0 333.4 L310.0 333.1 L309.1 343.9 L304.0 341.5 L290.7 348.6 L282.5 343.3 L288.4 339.9Z" fill="#1a1a1a" stroke="#1a1a1a" stroke-width="0.6" stroke-linejoin="miter"/>
<path d="M289.6 337.4 L291.3 335.1 L293.2 336.5 L289.8 339.1Z" fill="#fff"/>
</svg><div class="cap" style="left:284.7px;top:235.2px">B00326</div></div>
<div class="box" style="top:551px"><svg class="fig" viewBox="56 552 340 258" width="340" height="258" style="position:absolute;left:0;top:0" font-family="Liberation Sans, sans-serif">
<rect x="118.5" y="560.5" width="174" height="241" rx="10" ry="10" fill="#fff" stroke="#231f20" stroke-width="1"/>
<path d="M118.5 783.5H292.5" stroke="#231f20" stroke-width="1"/>
<path d="M134.0 563.9L151.4 563.9C159.1 563.9 163.3 576.3 163.3 586.4C163.3 597.6 159.1 609.3 151.4 609.3L134.0 609.3C125.8 609.3 120.4 598.1 120.4 586.4C120.4 574.7 125.8 563.9 134.0 563.9Z" fill="#231f20"/>
<g fill="none" stroke="#fff">
<path d="M124.87 589.30 L124.71 587.06 L124.69 584.81 L124.81 582.56 L125.06 580.35 L125.45 578.20 L125.96 576.13 L126.60 574.17 L127.36 572.33 L128.22 570.64 L129.18 569.13 L130.23 567.79 L131.36 566.66 L132.55 565.73 L133.78 565.03 L135.06 564.56 L136.35 564.33 L137.65 564.33 L138.95 564.57 L140.22 565.05 L141.45 565.76 L142.64 566.69 L143.76 567.83 L144.81 569.17 L145.77 570.70 L146.63 572.39 L147.38 574.23 L148.02 576.20 L148.53 578.27 L148.91 580.42 L149.16 582.64 L147.03 583.55 L146.78 581.60 L146.42 579.71 L145.94 577.90 L145.36 576.18 L144.69 574.58 L143.93 573.11 L143.08 571.79 L142.16 570.63 L141.18 569.64 L140.15 568.84 L139.07 568.23 L137.97 567.83 L136.85 567.62 L135.72 567.63 L134.59 567.84 L133.49 568.25 L132.42 568.87 L131.39 569.67 L130.41 570.66 L129.49 571.83 L128.65 573.16 L127.89 574.63 L127.21 576.24 L126.64 577.96 L126.17 579.77 L125.81 581.67 L125.56 583.61 L125.42 585.60 L125.41 587.60 L125.51 589.59Z" fill="#fff" stroke="none"/>
<path d="M145.01 601.21 L144.36 602.16 L143.67 603.04 L142.94 603.82 L142.19 604.52 L141.41 605.12 L140.61 605.62 L139.79 606.02 L138.95 606.31 L138.11 606.51 L137.26 606.59 L136.41 606.58 L135.56 606.45 L134.72 606.22 L133.89 605.89 L133.07 605.46 L132.28 604.92 L131.51 604.29 L130.76 603.56 L130.05 602.75 L129.37 601.84 L128.73 600.86 L128.14 599.80 L127.58 598.66 L127.08 597.46 L126.62 596.21 L126.22 594.89 L125.87 593.53 L125.58 592.14 L125.34 590.70 L125.16 589.25 L125.57 588.67 L125.73 590.04 L125.95 591.38 L126.22 592.69 L126.53 593.97 L126.90 595.20 L127.31 596.38 L127.77 597.51 L128.28 598.58 L128.82 599.59 L129.40 600.52 L130.02 601.38 L130.66 602.16 L131.34 602.86 L132.04 603.47 L132.77 603.99 L133.51 604.43 L134.27 604.76 L135.04 605.01 L135.82 605.15 L136.60 605.20 L137.38 605.15 L138.16 605.01 L138.93 604.76 L139.69 604.43 L140.43 603.99 L141.16 603.47 L141.86 602.86 L142.54 602.16 L143.18 601.38 L143.80 600.52Z" fill="#fff" stroke="none"/>
<path d="M139.85 600.58 L138.26 601.92 L136.56 602.66 L134.82 602.76 L133.10 602.23 L131.46 601.09 L129.98 599.37 L128.71 597.15 L127.69 594.50 L126.97 591.54 L126.58 588.37 L126.52 585.11 L126.80 581.90 L127.42 578.86 L128.34 576.09 L129.53 573.72 L130.95 571.82 L132.54 570.48 L134.24 569.74 L135.98 569.64 L137.70 570.17 L139.34 571.31 L140.82 573.03 L142.09 575.25 L143.11 577.90" stroke-width="0.75"/>
<path d="M136.25 600.09 L135.10 600.30 L133.96 600.15 L132.83 599.65 L131.77 598.81 L130.78 597.65 L129.91 596.20 L129.16 594.50 L128.57 592.58 L128.13 590.51 L127.88 588.33 L127.80 586.10 L127.91 583.87 L128.20 581.70 L128.66 579.66 L129.29 577.78 L130.06 576.12 L130.96 574.72 L131.96 573.61 L133.04 572.83 L134.16 572.39 L135.31 572.31 L136.46 572.59 L137.56 573.22 L138.60 574.18" stroke-width="0.6"/>
<path d="M139.90 575.46 L140.49 576.09 L141.04 576.82 L141.55 577.63 L142.00 578.51 L142.41 579.46 L142.76 580.47 L143.06 581.54 L143.29 582.64 L143.46 583.78 L143.56 584.94 L143.60 586.11 L143.57 587.28 L143.48 588.44 L143.32 589.58 L143.10 590.69 L142.81 591.77 L142.47 592.79 L142.07 593.75 L141.62 594.64 L141.12 595.46 L140.58 596.20 L139.99 596.85 L139.38 597.40 L138.73 597.85" stroke-width="0.6"/>
</g>
<path d="M136.42 583.63L136.04 576.29L138.99 577.10L137.01 583.80Z" fill="#fff"/>
<path d="M137.96 585.27L142.28 582.20L142.80 586.78L138.06 586.19Z" fill="#fff"/>
<path d="M137.60 587.92L141.22 592.70L138.76 595.36L137.11 588.46Z" fill="#fff"/>
<path d="M135.76 588.46L134.11 595.36L131.65 592.70L135.27 587.92Z" fill="#fff"/>
<path d="M134.81 585.97L130.06 585.92L130.84 581.43L134.97 585.07Z" fill="#fff"/>
<path d="M136.44 583.16L138.04 586.16L136.44 589.16L134.84 586.16Z" fill="#fff"/>
<path d="M145.9 600.6L147.3 597.8" stroke="#fff" stroke-width="0.9"/>
<rect x="166" y="565" width="121" height="17.8" fill="#231f20"/>
<text x="168.8" y="577.2" font-size="8.6" fill="#fff" textLength="112.4" lengthAdjust="spacingAndGlyphs" font-weight="700" stroke="#fff" stroke-width="0.15">TIRE AND LOADING INFORMATION</text>
<text x="165.8" y="592.8" font-size="8.1" fill="#111" textLength="107.7" lengthAdjust="spacingAndGlyphs" stroke="#111" stroke-width="0.12">SEATING CAPACITY:TOTAL 7</text>
<text x="221.7" y="602.6" font-size="8.1" fill="#111" textLength="64.5" lengthAdjust="spacingAndGlyphs" stroke="#111" stroke-width="0.12">FRONT 2:REAR 5</text>
<text x="120.8" y="617.7" font-size="8.35" fill="#111" textLength="168.8" lengthAdjust="spacingAndGlyphs" stroke="#111" stroke-width="0.12">The combined weight of occupants and cargo</text>
<text x="120.8" y="627.5" font-size="8.35" fill="#111" textLength="145" lengthAdjust="spacingAndGlyphs" stroke="#111" stroke-width="0.12">should never exceed 525kg or 1157lbs.</text>
<g fill="none" stroke="#231f20" stroke-width="1">
<rect x="123.5" y="641.5" width="164" height="105" rx="9" ry="9" stroke="#5a5a5a"/>
<path d="M123.5 667.5H287.5M123.5 694.5H287.5M123.5 720.5H287.5M206.5 641.5V746.5M206.5 680.5H287.5M232.5 667.5V694.5"/>
</g>
<text x="125.9" y="658.1" font-size="8.6" fill="#111" textLength="76.9" lengthAdjust="spacingAndGlyphs" stroke="#111" stroke-width="0.12">ORIGINAL TIRE SIZE</text>
<text x="142.9" y="683.0" font-size="8.6" fill="#111" textLength="43.3" lengthAdjust="spacingAndGlyphs" stroke="#111" stroke-width="0.12">P255/55R18</text>
<text x="127.1" y="710.7" font-size="8.6" fill="#111" textLength="74.7" lengthAdjust="spacingAndGlyphs" stroke="#111" stroke-width="0.12">COMPACT SPARE TIRE</text>
<text x="143.7" y="735.7" font-size="8.6" fill="#111" textLength="42.2" lengthAdjust="spacingAndGlyphs" stroke="#111" stroke-width="0.12">T165/80R17</text>
<text x="208.2" y="651.9" font-size="8.5" fill="#111" textLength="35.6" lengthAdjust="spacingAndGlyphs" stroke="#111" stroke-width="0.12">COLD TIRE</text>
<text x="209.0" y="662.7" font-size="8.5" fill="#111" textLength="72.9" lengthAdjust="spacingAndGlyphs" stroke="#111" stroke-width="0.12">INFLATION PRESSURE</text>
<text x="208.0" y="676.8" font-size="8.5" fill="#111" textLength="22.7" lengthAdjust="spacingAndGlyphs" stroke="#111" stroke-width="0.12">FRONT</text>
<text x="234.9" y="676.8" font-size="8.5" fill="#111" textLength="50.3" lengthAdjust="spacingAndGlyphs" stroke="#111" stroke-width="0.12">230kPa,33PSI</text>
<text x="208.0" y="689.8" font-size="8.5" fill="#111" textLength="18.4" lengthAdjust="spacingAndGlyphs" stroke="#111" stroke-width="0.12">REAR</text>
<text x="234.9" y="689.8" font-size="8.5" fill="#111" textLength="50.3" lengthAdjust="spacingAndGlyphs" stroke="#111" stroke-width="0.12">220kPa,32PSI</text>
<text x="208.8" y="704.7" font-size="8.5" fill="#111" textLength="35.6" lengthAdjust="spacingAndGlyphs" stroke="#111" stroke-width="0.12">COLD TIRE</text>
<text x="209.0" y="715.2" font-size="8.5" fill="#111" textLength="73.2" lengthAdjust="spacingAndGlyphs" stroke="#111" stroke-width="0.12">INFLATION PRESSURE</text>
<text x="222.1" y="735.7" font-size="8.5" fill="#111" textLength="50.8" lengthAdjust="spacingAndGlyphs" stroke="#111" stroke-width="0.12">420kPa,60PSI</text>
<rect x="122.9" y="752.4" width="165.2" height="24.2" rx="12" ry="12" fill="#231f20"/>
<text x="129.4" y="762.8" font-size="8.8" fill="#fff" textLength="138.3" lengthAdjust="spacing" font-weight="700" stroke="#fff" stroke-width="0.15">SEE OWNER&#39;S MANUAL FOR</text>
<text x="129.4" y="773.0" font-size="8.8" fill="#fff" textLength="131.9" lengthAdjust="spacing" font-weight="700" stroke="#fff" stroke-width="0.15">ADDITIONAL INFORMATION</text>
<text x="262.7" y="795.9" font-size="14.2" fill="#111" textLength="17.8" lengthAdjust="spacingAndGlyphs" stroke="#111" stroke-width="0.12">EX</text>
</svg><div class="cap" style="left:284.7px;top:235.2px">D00100</div></div>
</div></body></html>
